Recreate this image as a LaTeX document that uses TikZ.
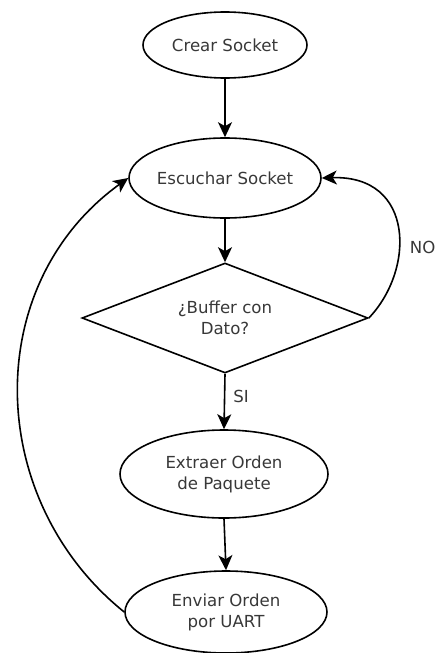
\documentclass[tikz,border=0pt]{standalone}
\usepackage{fontspec}
\setmainfont{DejaVu Sans}
\usetikzlibrary{shapes.geometric,arrows.meta}
\begin{document}
\begin{tikzpicture}[x=1pt,y=-1pt,
  txt/.style={font=\fontsize{16.6}{21}\selectfont, text=black!78, align=center},
  oval/.style={draw, line width=1.6pt, ellipse, inner sep=0pt, txt},
  decision/.style={draw, line width=1.6pt, diamond, aspect=2.6, inner sep=0pt, txt},
  flow/.style={line width=1.6pt, -{Stealth[length=15pt,width=14pt,inset=4pt]}},
  lbl/.style={txt, inner sep=0pt}]
\useasboundingbox (0,0) rectangle (435,653);
\node[oval, minimum width=164pt, minimum height=66pt] (crear) at (225,45) {Crear Socket};
\node[oval, minimum width=192pt, minimum height=80pt] (escuchar) at (225,178) {\makebox[120pt]{Escuchar Socket}};
\node[decision, minimum width=286pt, minimum height=110pt] (buffer) at (225,318) {¿Buffer con\\Dato?};
\node[oval, minimum width=208pt, minimum height=88pt] (extraer) at (224,474) {Extraer Orden\\de Paquete};
\node[oval, minimum width=202pt, minimum height=82pt] (enviar) at (226,612) {Enviar Orden\\por UART};
\draw[flow] (crear.south) -- (escuchar.north);
\draw[flow] (escuchar.south) -- (buffer.north);
\draw[flow] (buffer.south) -- node[lbl, pos=0.4, anchor=west, xshift=8pt] (si) {SI} (extraer.north);
\draw[flow] (extraer.south) -- (enviar.north);
\draw[flow] (buffer.east) .. controls (415,270) and (415,175) .. node[lbl, pos=0.4, anchor=west, xshift=10pt] (no) {NO} (escuchar.east);
\draw[flow] (enviar.west) .. controls (-15,500) and (-20,285) .. (escuchar.west);
\end{tikzpicture}
\end{document}
